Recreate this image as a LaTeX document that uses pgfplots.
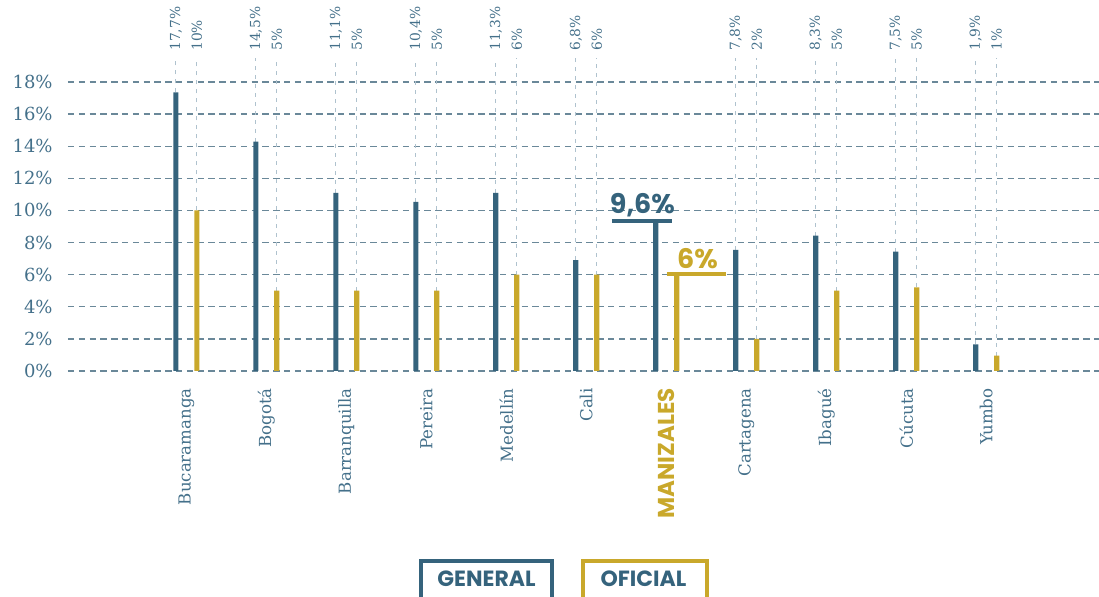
\documentclass[border=0pt]{standalone}
\usepackage{fontspec}
\setmainfont{DejaVu Serif}
\newfontfamily\popb{Poppins}
\usepackage{pgfplots}
\usepackage{pgfplotstable}
\pgfplotsset{compat=1.18}
\definecolor{dblue}{HTML}{35637C}
\definecolor{gold}{HTML}{C9A82B}
\definecolor{tlabel}{HTML}{44708A}
\definecolor{gridc}{HTML}{6A8899}
\definecolor{dropc}{HTML}{AFC2CE}

\pgfplotstableread{
x gen off
0 17.35 10.0
1 14.28 5.0
2 11.1 5.0
3 10.54 5.0
4 11.1 6.0
5 6.9 6.0
6 9.37 6.0
7 7.55 2.0
8 8.43 5.0
9 7.43 5.2
10 1.66 0.95
}\bars

\pgfplotstableread{
x gen off glab olab
0 17.35 10.0 17,7 10
1 14.28 5.0 14,5 5
2 11.1 5.0 11,1 5
3 10.54 5.0 10,4 5
4 11.1 6.0 11,3 6
5 6.9 6.0 6,8 6
7 7.55 2.0 7,8 2
8 8.43 5.0 8,3 5
9 7.43 5.2 7,5 5
10 1.66 0.95 1,9 1
}\labs

\begin{document}
\begin{tikzpicture}
\useasboundingbox (0,0) rectangle (549.5pt,298.5pt);
\begin{axis}[
  at={(34pt,113pt)}, anchor=south west,
  scale only axis, width=515.5pt, height=144.5pt,
  xmin=-1.48, xmax=11.41, ymin=0, ymax=18,
  clip=false,
  axis line style={draw=none},
  major tick style={draw=none},
  ymajorgrids,
  grid style={draw=gridc, line width=0.7pt, dash pattern=on 3.2pt off 2.2pt},
  ytick={0,2,...,18},
  yticklabels={0\%,2\%,4\%,6\%,8\%,10\%,12\%,14\%,16\%,18\%},
  yticklabel style={font=\fontsize{9}{10}\selectfont, text=tlabel, anchor=east, inner sep=0pt, xshift=-7.5pt},
  xtick={0,...,10},
  xticklabels={Bucaramanga,Bogotá,Barranquilla,Pereira,Medellín,Cali,{\popb\bfseries\fontsize{11.5}{12}\selectfont\color{gold}MANIZALES},Cartagena,Ibagué,Cúcuta,Yumbo},
  xticklabel style={font=\fontsize{8.3}{10}\selectfont, text=tlabel, rotate=90, anchor=east, inner sep=0pt, xshift=-8.5pt},
]
% drop lines
\addplot[draw=none, mark=none, forget plot, error bars/.cd, y dir=plus, y explicit, error mark=none,
  error bar style={draw=dropc, line width=0.6pt, dash pattern=on 2pt off 2.5pt}]
  table[x expr=\thisrow{x}-0.131, y=gen, y error expr=19.5-\thisrow{gen}] {\labs};
\addplot[draw=none, mark=none, forget plot, error bars/.cd, y dir=plus, y explicit, error mark=none,
  error bar style={draw=dropc, line width=0.6pt, dash pattern=on 2pt off 2.5pt}]
  table[x expr=\thisrow{x}+0.131, y=off, y error expr=19.5-\thisrow{off}] {\labs};
% bars
\addplot[ybar, bar width=2.6pt, bar shift=0pt, fill=dblue, draw=none]
  table[x expr=\thisrow{x}-0.131, y=gen] {\bars};
\addplot[ybar, bar width=2.6pt, bar shift=0pt, fill=gold, draw=none]
  table[x expr=\thisrow{x}+0.131, y=off] {\bars};
% top labels
\addplot[draw=none, mark=none, nodes near coords={\pgfplotspointmeta\%}, point meta=explicit symbolic,
  every node near coord/.style={rotate=90, anchor=west, inner sep=0pt, text=tlabel, font=\fontsize{6.9}{7}\selectfont}]
  table[x expr=\thisrow{x}-0.131, y expr=19.93, meta=glab] {\labs};
\addplot[draw=none, mark=none, nodes near coords={\pgfplotspointmeta\%}, point meta=explicit symbolic,
  every node near coord/.style={rotate=90, anchor=west, inner sep=0pt, text=tlabel, font=\fontsize{6.9}{7}\selectfont}]
  table[x expr=\thisrow{x}+0.131, y expr=19.93, meta=olab] {\labs};
% Manizales highlight
\addplot[dblue, line width=2pt, mark=none] coordinates {(5.319,9.37) (6.069,9.37)};
\addplot[gold, line width=1.7pt, mark=none] coordinates {(6.006,6.05) (6.744,6.05)};
\node[anchor=base west, inner sep=0pt, text=dblue, font=\popb\bfseries\fontsize{13.5}{14}\selectfont] at (axis cs:5.29,9.84) {9,6\%};
\node[anchor=base west, inner sep=0pt, text=gold, font=\popb\bfseries\fontsize{13.5}{14}\selectfont] at (axis cs:6.13,6.41) {6\%};
\end{axis}
% legend
\draw[dblue, line width=2.25pt] (210.6pt,-5pt) rectangle (275.9pt,17.9pt);
\draw[gold, line width=2.25pt] (291.6pt,-5pt) rectangle (353.4pt,17.9pt);
\node[text=dblue, font=\popb\bfseries\fontsize{11}{12}\selectfont, inner sep=0pt] at (243.25pt,9pt) {GENERAL};
\node[text=dblue, font=\popb\bfseries\fontsize{11}{12}\selectfont, inner sep=0pt] at (321.75pt,9pt) {OFICIAL};
\end{tikzpicture}
\end{document}
